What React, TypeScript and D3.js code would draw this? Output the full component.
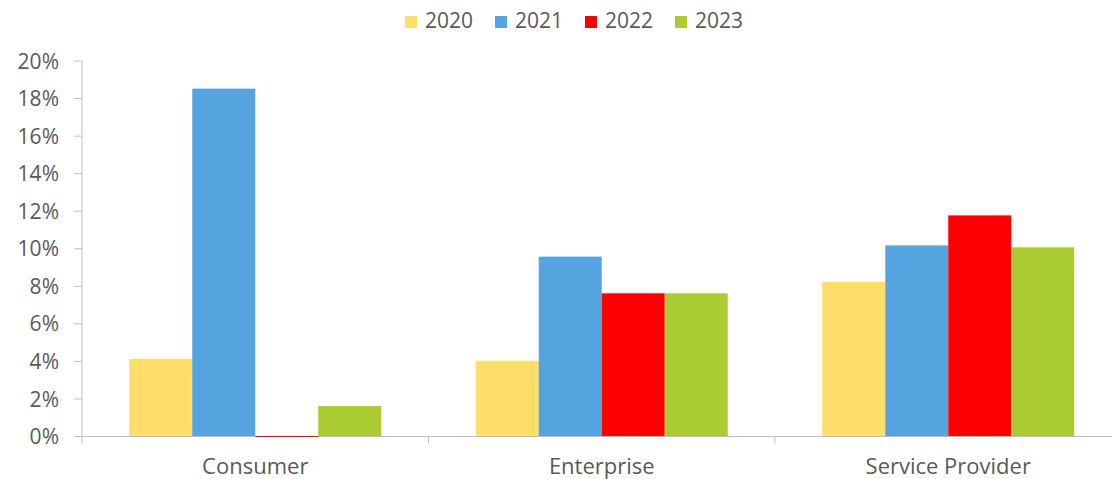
import React from "react";
import * as d3 from "d3";

const categories = ["Consumer", "Enterprise", "Service Provider"];
const seriesNames = ["2020", "2021", "2022", "2023"];
const values2020 = [4.1, 4.0, 8.2];
const values2021 = [18.5, 9.55, 10.15];
const values2022 = [-0.05, 7.6, 11.75];
const values2023 = [1.6, 7.6, 10.05];
const yTicks = [0, 2, 4, 6, 8, 10, 12, 14, 16, 18, 20];
const colors = ["#FEDD68", "#55A4E0", "#FF0000", "#ABCB33"];

const seriesValues = [values2020, values2021, values2022, values2023];

export default function App() {
  const W = 1112;
  const H = 479;
  const left = 82;
  const bottom = 436.5;
  const top = 61;
  const x0 = d3.scaleBand<string>().domain(categories).range([left, left + 3 * 346.5]);
  const x1 = d3
    .scaleBand<string>()
    .domain(seriesNames)
    .range([0, x0.bandwidth()])
    .paddingInner(0)
    .paddingOuter(0.75);
  const y = d3.scaleLinear().domain([0, 20]).range([bottom, top]);
  const font = "'Open Sans', 'Noto Sans', sans-serif";
  const textColor = "#595959";
  const axisColor = "#BFBFBF";

  const catTicks = [...categories.map((c) => x0(c) as number), left + 3 * 346.5];

  return (
    <svg
      width={W}
      height={H}
      style={{ position: "absolute", left: 0, top: 0, background: "#fff" }}
      fontFamily={font}
    >
      {/* legend */}
      {seriesNames.map((s, i) => (
        <g key={s} transform={`translate(${405 + i * 90},0)`}>
          <rect x={0} y={16} width={12} height={12} fill={colors[i]} />
          <text x={20} y={28} fontSize={21} fill={textColor}>
            {s}
          </text>
        </g>
      ))}
      {/* y axis */}
      <line x1={left} x2={left} y1={top} y2={bottom} stroke={axisColor} strokeWidth={1} />
      {yTicks.map((t) => (
        <g key={t}>
          <line x1={left - 8} x2={left} y1={y(t)} y2={y(t)} stroke={axisColor} strokeWidth={1} />
          <text
            x={59}
            y={y(t)}
            dy="0.36em"
            textAnchor="end"
            fontSize={21}
            fill={textColor}
          >
            {t}%
          </text>
        </g>
      ))}
      {/* x axis */}
      <line x1={left} x2={W + 20} y1={bottom} y2={bottom} stroke={axisColor} strokeWidth={1} />
      {catTicks.map((cx, i) => (
        <line key={i} x1={cx} x2={cx} y1={bottom} y2={bottom + 7} stroke={axisColor} strokeWidth={1} />
      ))}
      {categories.map((c) => (
        <text
          key={c}
          x={(x0(c) as number) + x0.bandwidth() / 2}
          y={474}
          textAnchor="middle"
          fontSize={22}
          fill={textColor}
        >
          {c}
        </text>
      ))}
      {/* bars */}
      {categories.map((c, ci) =>
        seriesNames.map((s, si) => {
          const v = seriesValues[si][ci];
          const y0 = y(0) - 0.5;
          const yv = y(v) - 0.5;
          return (
            <rect
              key={c + s}
              x={(x0(c) as number) + (x1(s) as number)}
              y={Math.min(y0, yv)}
              width={x1.bandwidth()}
              height={Math.max(Math.abs(y0 - yv), 1)}
              fill={colors[si]}
            />
          );
        })
      )}
    </svg>
  );
}
